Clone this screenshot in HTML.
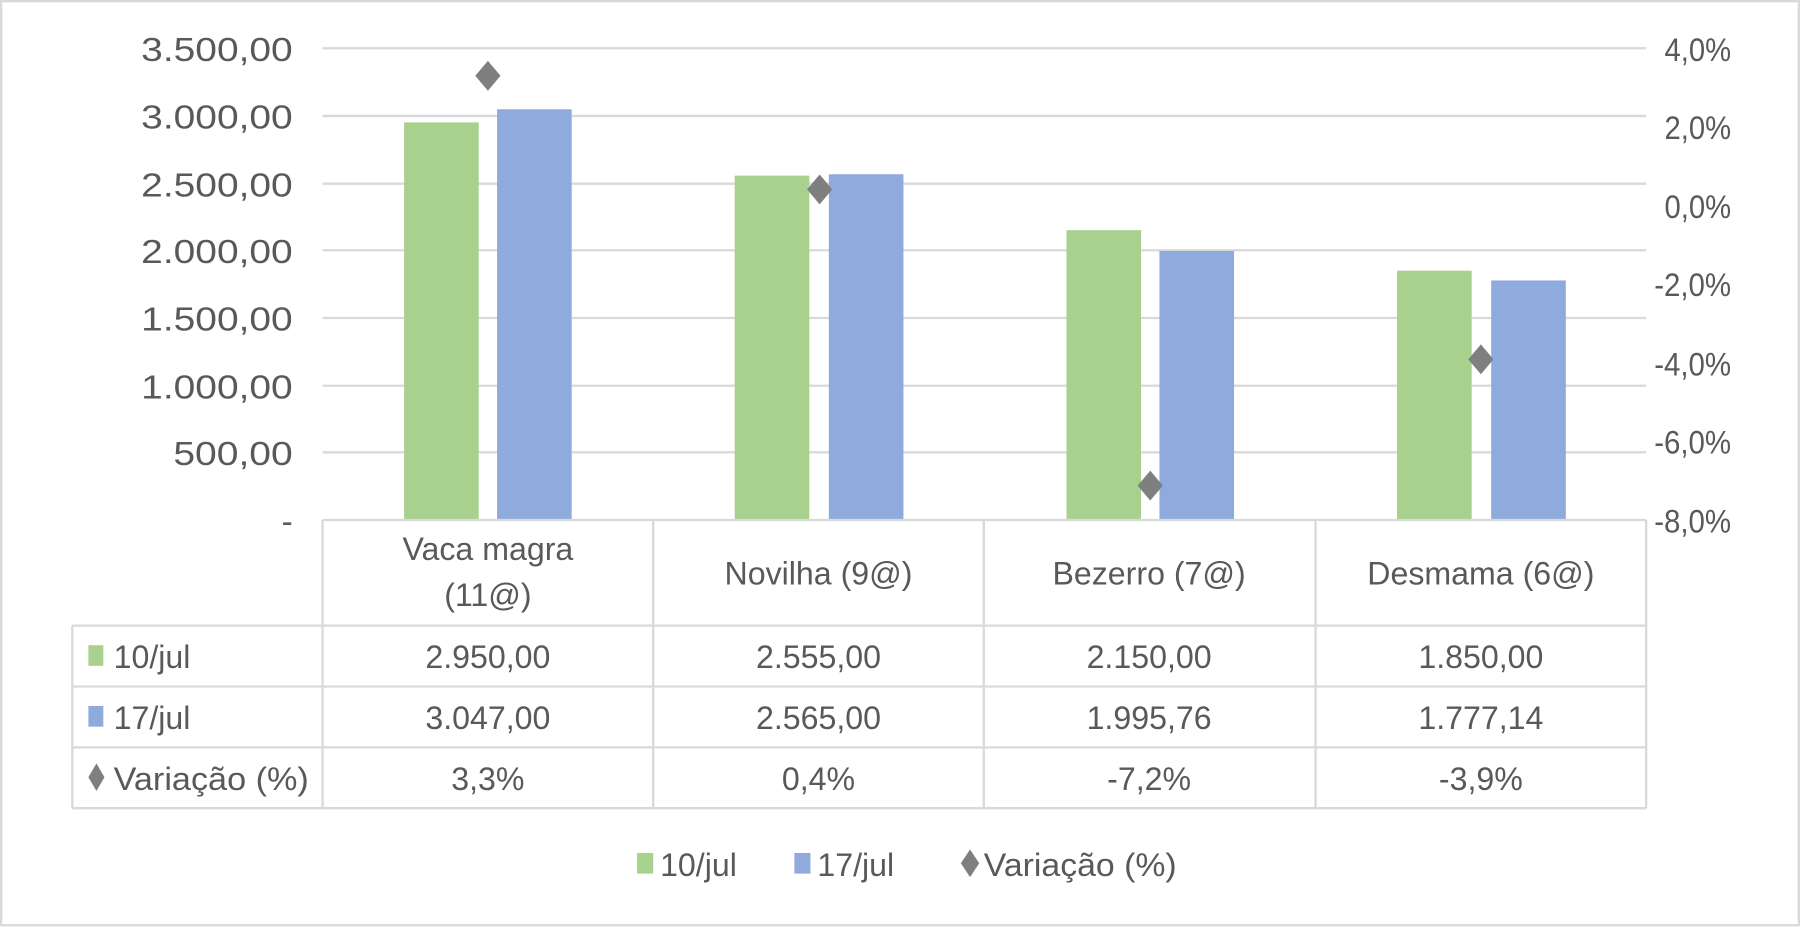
<!DOCTYPE html>
<html><head><meta charset="utf-8"><style>html,body{margin:0;padding:0;background:#fff}svg{display:block}</style></head>
<body>
<svg width="1800" height="927" viewBox="0 0 1568 807.5" preserveAspectRatio="none" xmlns="http://www.w3.org/2000/svg" font-family="Liberation Sans, sans-serif" fill="#595959">
<rect x="1" y="1" width="1566" height="805" fill="#fff" stroke="#d9d9d9" stroke-width="2"/>
<g stroke="#d9d9d9" stroke-width="2">
<line x1="281" x2="1434" y1="42" y2="42"/><line x1="281" x2="1434" y1="101" y2="101"/>
<line x1="281" x2="1434" y1="160" y2="160"/><line x1="281" x2="1434" y1="218" y2="218"/>
<line x1="281" x2="1434" y1="277" y2="277"/><line x1="281" x2="1434" y1="336" y2="336"/>
<line x1="281" x2="1434" y1="394" y2="394"/>
</g>
<g font-size="29" text-anchor="end">
<text x="255" y="53" textLength="132" lengthAdjust="spacingAndGlyphs">3.500,00</text><text x="255" y="112" textLength="132" lengthAdjust="spacingAndGlyphs">3.000,00</text>
<text x="255" y="171" textLength="132" lengthAdjust="spacingAndGlyphs">2.500,00</text><text x="255" y="229" textLength="132" lengthAdjust="spacingAndGlyphs">2.000,00</text>
<text x="255" y="288" textLength="132" lengthAdjust="spacingAndGlyphs">1.500,00</text><text x="255" y="347" textLength="132" lengthAdjust="spacingAndGlyphs">1.000,00</text>
<text x="255" y="405" textLength="104" lengthAdjust="spacingAndGlyphs">500,00</text><text x="255" y="464">-</text>
</g>
<g font-size="28" text-anchor="end">
<text x="1508" y="53" textLength="58" lengthAdjust="spacingAndGlyphs">4,0%</text><text x="1508" y="121" textLength="58" lengthAdjust="spacingAndGlyphs">2,0%</text>
<text x="1508" y="190" textLength="58" lengthAdjust="spacingAndGlyphs">0,0%</text><text x="1508" y="258" textLength="67" lengthAdjust="spacingAndGlyphs">-2,0%</text>
<text x="1508" y="327" textLength="67" lengthAdjust="spacingAndGlyphs">-4,0%</text><text x="1508" y="395" textLength="67" lengthAdjust="spacingAndGlyphs">-6,0%</text>
<text x="1508" y="464" textLength="67" lengthAdjust="spacingAndGlyphs">-8,0%</text>
</g>
<g fill="#a9d18e">
<rect x="352" y="106.6" width="65" height="346.4"/>
<rect x="640" y="153" width="65" height="300"/>
<rect x="929" y="200.5" width="65" height="252.5"/>
<rect x="1217" y="235.8" width="65" height="217.2"/>
</g>
<g fill="#8faadc">
<rect x="433" y="95.2" width="65" height="357.8"/>
<rect x="722" y="151.8" width="65" height="301.2"/>
<rect x="1010" y="218.6" width="65" height="234.4"/>
<rect x="1299" y="244.3" width="65" height="208.7"/>
</g>
<g fill="#7f7f7f">
<path d="M425 53 L436 66 L425 79 L414 66 Z"/>
<path d="M714 152 L725 165 L714 178 L703 165 Z"/>
<path d="M1002 410 L1013 423 L1002 436 L991 423 Z"/>
<path d="M1290 300 L1301 313 L1290 326 L1279 313 Z"/>
</g>
<g stroke="#d9d9d9" stroke-width="2" fill="none">
<line x1="281" x2="1434" y1="453" y2="453"/>
<line x1="63" x2="1434" y1="545" y2="545"/>
<line x1="63" x2="1434" y1="598" y2="598"/>
<line x1="63" x2="1434" y1="651" y2="651"/>
<line x1="63" x2="1434" y1="704" y2="704"/>
<line x1="63" x2="63" y1="545" y2="704"/>
<line x1="281" x2="281" y1="453" y2="704"/>
<line x1="569" x2="569" y1="453" y2="704"/>
<line x1="857" x2="857" y1="453" y2="704"/>
<line x1="1146" x2="1146" y1="453" y2="704"/>
<line x1="1434" x2="1434" y1="453" y2="704"/>
</g>
<g font-size="28" text-anchor="middle">
<text x="425" y="488">Vaca magra</text><text x="425" y="528">(11@)</text>
<text x="713" y="509">Novilha (9@)</text>
<text x="1001" y="509">Bezerro (7@)</text>
<text x="1290" y="509">Desmama (6@)</text>
<text x="425" y="582">2.950,00</text><text x="713" y="582">2.555,00</text><text x="1001" y="582">2.150,00</text><text x="1290" y="582">1.850,00</text>
<text x="425" y="635">3.047,00</text><text x="713" y="635">2.565,00</text><text x="1001" y="635">1.995,76</text><text x="1290" y="635">1.777,14</text>
<text x="425" y="688">3,3%</text><text x="713" y="688">0,4%</text><text x="1001" y="688">-7,2%</text><text x="1290" y="688">-3,9%</text>
</g>
<rect x="77" y="562" width="13" height="18" fill="#a9d18e"/>
<text x="99" y="582" font-size="28">10/jul</text>
<rect x="77" y="615" width="13" height="18" fill="#8faadc"/>
<text x="99" y="635" font-size="28">17/jul</text>
<path d="M84 665 L91 677 L84 689 L77 677 Z" fill="#7f7f7f"/>
<text x="99" y="688" font-size="28" textLength="170" lengthAdjust="spacingAndGlyphs">Variação (%)</text>
<rect x="555" y="743" width="14" height="18" fill="#a9d18e"/>
<text x="575" y="763" font-size="28">10/jul</text>
<rect x="692" y="743" width="14" height="18" fill="#8faadc"/>
<text x="712" y="763" font-size="28">17/jul</text>
<path d="M845 740 L853 752 L845 764 L837 752 Z" fill="#7f7f7f"/>
<text x="857" y="763" font-size="28" textLength="168" lengthAdjust="spacingAndGlyphs">Variação (%)</text>
</svg>
</body></html>
